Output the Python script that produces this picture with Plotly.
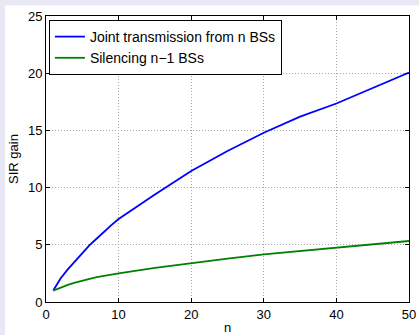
import plotly.graph_objects as go

# Number of cooperating base stations
n = [1, 2, 3, 4, 5, 6, 7, 8, 9, 10, 15, 20, 25, 30, 35, 40, 45, 50]

# SIR gain for the two schemes
joint_gain = [1.0, 2.05, 2.85, 3.58, 4.30, 4.98, 5.55, 6.15, 6.72, 7.25,
              9.40, 11.45, 13.20, 14.80, 16.20, 17.35, 18.70, 20.05]
silence_gain = [1.0, 1.28, 1.50, 1.70, 1.88, 2.03, 2.17, 2.29, 2.40, 2.50,
                2.98, 3.42, 3.80, 4.17, 4.47, 4.77, 5.05, 5.33]

x_ticks = [0, 10, 20, 30, 40, 50]
y_ticks = [0, 5, 10, 15, 20, 25]

FONT = "Liberation Sans, Arial, Helvetica, sans-serif"

fig = go.Figure()
fig.add_trace(go.Scatter(x=n, y=joint_gain, mode="lines",
                         name="Joint transmission from n BSs",
                         line=dict(color="#0000ff", width=1.8)))
fig.add_trace(go.Scatter(x=n, y=silence_gain, mode="lines",
                         name="Silencing n\u22121 BSs",
                         line=dict(color="#008000", width=1.8)))

axis_common = dict(
    showline=True, linecolor="black", linewidth=1, mirror="ticks",
    ticks="inside", ticklen=4, tickcolor="black",
    showgrid=True, gridcolor="#a8a8a8", griddash="1px,2px", gridwidth=1,
    zeroline=False, automargin=False,
    tickfont=dict(size=13, color="black", family=FONT),
)

fig.update_xaxes(range=[0, 50], tickvals=x_ticks,
                 title=dict(text="n", font=dict(size=13, family=FONT), standoff=3),
                 **axis_common)
fig.update_yaxes(range=[0, 25], tickvals=y_ticks,
                 title=dict(text="SIR gain", font=dict(size=13, family=FONT), standoff=6),
                 **axis_common)

# white figure panel on a lavender page
fig.add_shape(type="rect", xref="paper", yref="paper",
              x0=-0.113, x1=1.1, y0=-0.2, y1=1.037,
              fillcolor="white", line=dict(width=0), layer="below")

fig.update_layout(
    width=419, height=335,
    margin=dict(l=46, r=10, t=15.5, b=32.5),
    paper_bgcolor="#e8e8f5", plot_bgcolor="white",
    font=dict(family=FONT, color="black"),
    showlegend=True,
    legend=dict(x=0.008, y=0.986, xanchor="left", yanchor="top",
                bgcolor="white", bordercolor="black", borderwidth=1,
                font=dict(size=14, family=FONT, color="black"),
                tracegroupgap=0, itemwidth=30),
)

fig.write_html("out.html")
